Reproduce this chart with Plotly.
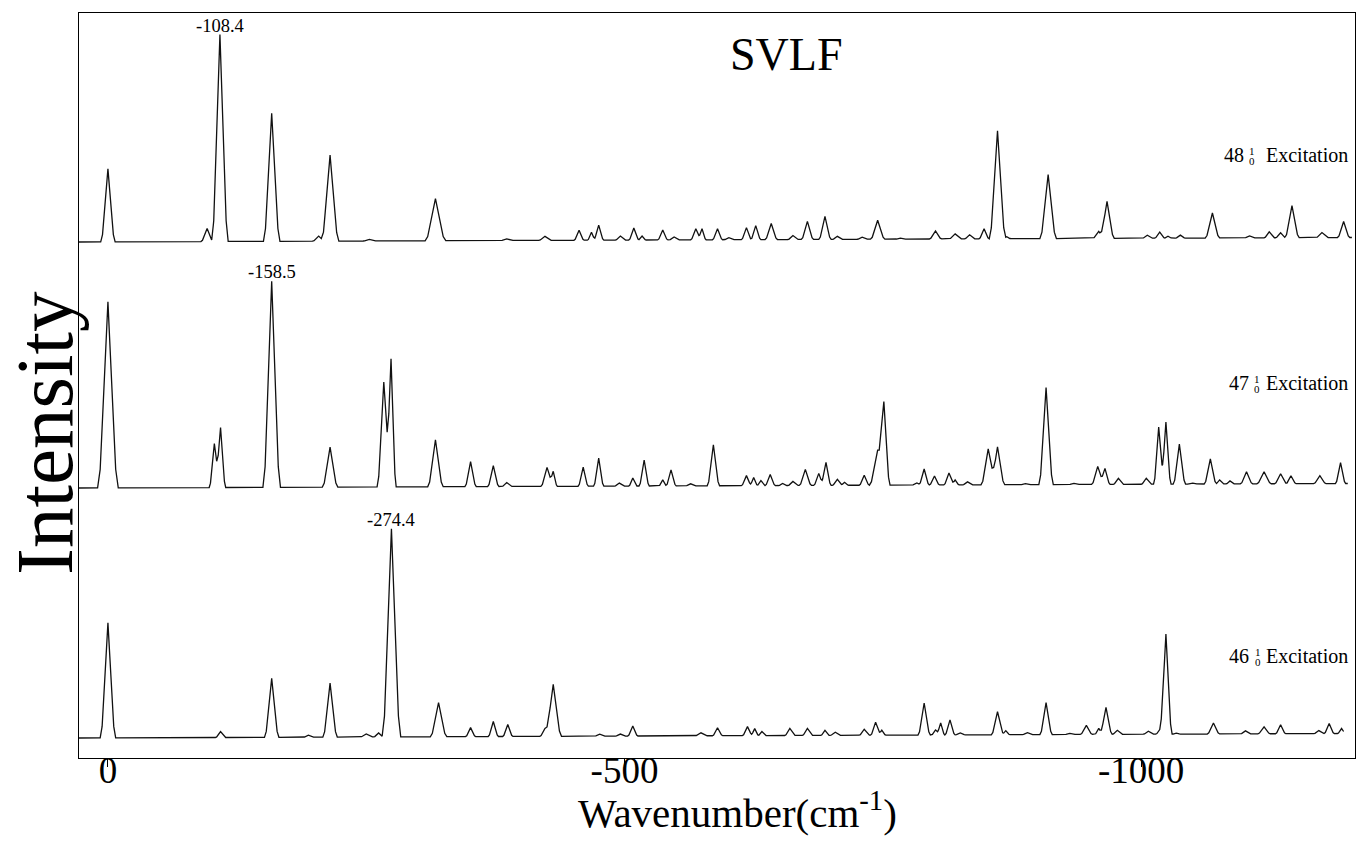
import numpy as np
import plotly.graph_objects as go

# ---------------------------------------------------------------------------
# Band tables for the three single-vibronic-level fluorescence scans.
# Each entry: (position / cm-1, height above baseline / a.u., half-width at base / cm-1)
# ---------------------------------------------------------------------------
BANDS_48 = [
    (0, 73, 7), (-96, 13, 6), (-108.4, 207, 8), (-158.5, 128, 8), (-204, 5, 6),
    (-215, 86, 8.5), (-253, 1.5, 6), (-317, 42, 10), (-386, 1.5, 6), (-423, 4, 6),
    (-456, 10, 5), (-468, 8, 4), (-475, 15, 5), (-496, 4, 5), (-509, 12, 5),
    (-517, 4, 4), (-537, 10, 5), (-548, 3, 5), (-569, 11, 5), (-575, 11, 4),
    (-590, 11, 5), (-601, 2, 5), (-618, 12, 5), (-627, 14, 5), (-642, 16, 6),
    (-663, 4, 5), (-677, 18, 6), (-694, 23, 6), (-706, 3, 5), (-730, 2, 5),
    (-745, 19, 7), (-767, 1, 5), (-801, 8, 6), (-820, 5, 6), (-834, 4, 5),
    (-848, 10, 5), (-861, 108, 8), (-870, 2, 4), (-910, 64, 8), (-959, 7, 6),
    (-967, 37, 7), (-1006, 3, 5), (-1018, 6, 5), (-1026, 2, 4), (-1038, 3, 5),
    (-1069, 25, 7), (-1105, 2, 5), (-1124, 6, 5), (-1135, 5, 5), (-1146, 32, 7),
    (-1175, 5, 6), (-1196, 16, 6),
]

BANDS_47 = [
    (0, 186, 10), (-103, 44, 5), (-109, 60, 5), (-158.5, 206, 8.5), (-215, 40, 7.5),
    (-267, 105, 6.5), (-274, 128, 5), (-317, 47, 7.5), (-351, 25, 5.5), (-373, 21, 5.5),
    (-386, 4, 5), (-425, 19, 6), (-431, 15, 4), (-460, 19, 5), (-475, 28, 5),
    (-495, 3, 5), (-508, 8, 4), (-519, 26, 5), (-537, 6, 4), (-545, 16, 5),
    (-564, 2, 5), (-586, 41, 6), (-618, 10, 5), (-625, 8, 4), (-632, 5, 4),
    (-641, 11, 5), (-653, 2, 4), (-663, 4, 5), (-675, 16, 6), (-688, 12, 5),
    (-695, 23, 5), (-706, 6, 5), (-713, 3, 4), (-732, 10, 5), (-745, 35, 8),
    (-751, 80, 6), (-783, 2, 5), (-790, 16, 5), (-800, 9, 5), (-814, 12, 5),
    (-820, 5, 4), (-832, 3, 5), (-852, 36, 7), (-861, 38, 7), (-888, 1, 5),
    (-908, 97, 7), (-935, 1, 5), (-958, 18, 6), (-965, 16, 5), (-978, 6, 5),
    (-1005, 6, 5), (-1017, 57, 5), (-1024, 62, 5), (-1037, 40, 6), (-1050, 1, 5),
    (-1067, 25, 6), (-1076, 4, 4), (-1086, 3, 4), (-1102, 12, 6), (-1119, 12, 7),
    (-1135, 10, 6), (-1145, 8, 5), (-1173, 8, 6), (-1193, 21, 5),
]

BANDS_46 = [
    (0, 115, 7.5), (-109, 6, 5), (-158.5, 59, 7), (-194, 2, 5), (-215, 54, 7),
    (-250, 3, 6), (-262, 4, 5), (-274.4, 208, 9), (-320, 34, 8), (-351, 9, 5),
    (-373, 15, 5), (-387, 12, 5), (-423, 8, 5), (-431, 52, 8), (-476, 2, 5),
    (-496, 2, 5), (-508, 10, 5), (-574, 3, 6), (-590, 8, 5), (-619, 9, 5),
    (-626, 7, 4), (-633, 4, 4), (-660, 7, 5), (-677, 7, 5), (-694, 5, 4),
    (-704, 3, 5), (-732, 6, 5), (-743, 13, 5), (-749, 5, 4), (-790, 32, 6),
    (-801, 5, 4), (-806, 12, 4), (-815, 15, 5), (-825, 2, 5), (-861, 23, 6),
    (-869, 4, 4), (-890, 2, 5), (-908, 32, 6), (-931, 1, 5), (-947, 9, 6),
    (-959, 6, 4), (-966, 27, 6), (-977, 4, 5), (-1007, 3, 5), (-1019, 6, 5),
    (-1024, 100, 6), (-1034, 1, 4), (-1070, 11, 6), (-1101, 3, 5), (-1119, 7, 6),
    (-1135, 9, 5), (-1172, 3, 5), (-1182, 10, 5), (-1194, 5, 4),
]

# Baseline drift across each scan (level at start, level at end; a.u.)
DRIFT_48 = (0.0, 4.5)
DRIFT_47 = (0.0, 4.5)
DRIFT_46 = (0.0, 4.5)

# Scan limits (cm-1)
SCAN_48 = (28, -1204)
SCAN_47 = (28, -1200)
SCAN_46 = (28, -1196)

# Labelled origins of each progression (cm-1)
LABEL_48 = -108.4
LABEL_47 = -158.5
LABEL_46 = -274.4

TICK_VALUES = [0, -500, -1000]
TICK_TEXT = ["0", "-500", "-1000"]

# ---------------------------------------------------------------------------
# Layout constants
# ---------------------------------------------------------------------------
W, H = 1357, 847
ML, MR, MT, MB = 79, 2, 13, 89
PW, PH = W - ML - MR, H - MT - MB
X_RANGE = [28, -1207]
Y_RANGE = [0, PH]
STACK = {"48": 516, "47": 270, "46": 20}   # vertical offset of each scan
FONT = "Liberation Serif, Times New Roman, serif"

# band profile: sharp apex with a slightly flared foot
KNEE_POS, KNEE_LEVEL = 0.75, 0.10


def spectrum(bands, scan, drift):
    start, end = scan
    pts = {float(start), float(end)}
    profiles = []
    for c, h, w in bands:
        xs = np.array([c - w, c - KNEE_POS * w, c, c + KNEE_POS * w, c + w], float)
        ys = np.array([0.0, KNEE_LEVEL * h, h, KNEE_LEVEL * h, 0.0])
        profiles.append((xs, ys))
        pts.update(xs.tolist())
    x = np.array(sorted(p for p in pts if end <= p <= start))
    y = np.zeros_like(x)
    for xs, ys in profiles:
        y += np.interp(x, xs, ys, left=0.0, right=0.0)
    b0, b1 = drift
    y += b0 + (b1 - b0) * (start - x) / (start - end)
    return x[::-1], y[::-1]


def px_x(px):
    return (px - ML) / PW


def px_y(py):
    return (H - MB - py) / PH


def label(text, px, py, size, xanchor="center", **kw):
    return dict(x=px_x(px), y=px_y(py), xref="paper", yref="paper", text=text,
                showarrow=False, xanchor=xanchor, yanchor="middle", borderpad=0,
                font=dict(family=FONT, size=size, color="black"), **kw)


fig = go.Figure()

scans = [
    ("48", BANDS_48, SCAN_48, DRIFT_48, LABEL_48),
    ("47", BANDS_47, SCAN_47, DRIFT_47, LABEL_47),
    ("46", BANDS_46, SCAN_46, DRIFT_46, LABEL_46),
]

annotations = []
for key, bands, scan, drift, origin in scans:
    x, y = spectrum(bands, scan, drift)
    y = y + STACK[key]
    fig.add_trace(go.Scatter(
        x=x, y=y, mode="lines",
        line=dict(color="#111111", width=1.3),
        hoverinfo="skip", showlegend=False,
    ))
    apex = float(np.interp(-origin, -x, y))
    annotations.append(dict(
        x=origin, y=apex, xref="x", yref="y", text=f"{origin:.1f}",
        showarrow=False, xanchor="center", yanchor="bottom", yshift=-2, borderpad=0,
        font=dict(family=FONT, size=18.5, color="black"),
    ))

# excitation labels: mode number with stacked upper/lower indices
EXC_LAYOUT = {
    "48": dict(num_right=1245, idx_left=1248, yc=155),
    "47": dict(num_right=1250, idx_left=1253, yc=383),
    "46": dict(num_right=1250, idx_left=1254, yc=656),
}
for key, pos in EXC_LAYOUT.items():
    yc = pos["yc"]
    annotations += [
        label(key, pos["num_right"], yc, 20, xanchor="right"),
        label("1", pos["idx_left"], yc - 4, 11, xanchor="left"),
        label("0", pos["idx_left"], yc + 6, 11, xanchor="left"),
        label("Excitation", 1349, yc, 20, xanchor="right"),
    ]

annotations += [
    label("SVLF", 786, 55, 46),
    label("Intensity", 45, 433, 81, textangle=-90),
    label("Wavenumber(cm<sup>-1</sup>)", 738, 810, 41),
]

fig.update_layout(
    width=W, height=H, autosize=False,
    margin=dict(l=ML, r=MR, t=MT, b=MB, pad=0),
    paper_bgcolor="white", plot_bgcolor="white",
    annotations=annotations,
    xaxis=dict(
        range=X_RANGE, tickmode="array", tickvals=TICK_VALUES, ticktext=TICK_TEXT,
        ticks="outside", ticklen=8, tickwidth=1, tickcolor="black",
        ticklabelstandoff=-29,
        tickfont=dict(family=FONT, size=37, color="black"),
        showline=True, linecolor="black", linewidth=1.2, mirror=True,
        showgrid=False, zeroline=False,
    ),
    yaxis=dict(
        range=Y_RANGE, showticklabels=False, ticks="",
        showline=True, linecolor="black", linewidth=1.2, mirror=True,
        showgrid=False, zeroline=False,
    ),
)

fig.write_html("out.html", config={"displayModeBar": False})
